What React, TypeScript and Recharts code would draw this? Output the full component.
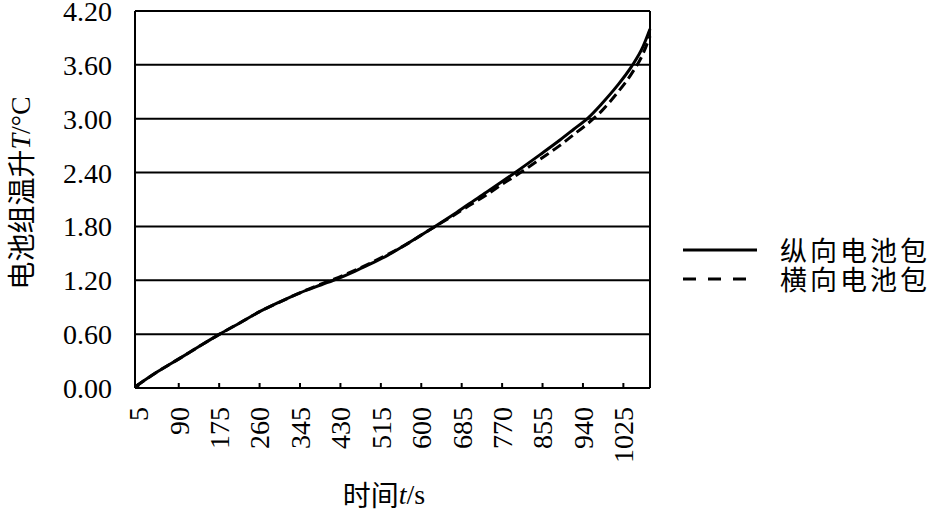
import React from 'react';
import { LineChart, Line, XAxis, YAxis, CartesianGrid, Legend, ReferenceLine, Label } from 'recharts';

const timeS = [0, 45, 92, 135, 176, 220, 260, 303, 345, 390, 425, 460, 492, 530, 562, 617, 667, 700, 737, 770, 800, 850, 891, 920, 951, 980, 1011, 1042, 1066, 1081];
const longitudinal = [0.02, 0.18, 0.33, 0.47, 0.6, 0.73, 0.85, 0.96, 1.06, 1.15, 1.22, 1.3, 1.38, 1.48, 1.58, 1.76, 1.93, 2.05, 2.18, 2.3, 2.41, 2.6, 2.76, 2.88, 3.01, 3.17, 3.36, 3.58, 3.8, 4.0];
const transverse = [0.02, 0.18, 0.33, 0.47, 0.6, 0.73, 0.85, 0.96, 1.06, 1.16, 1.23, 1.31, 1.39, 1.49, 1.58, 1.76, 1.92, 2.03, 2.15, 2.27, 2.37, 2.55, 2.7, 2.82, 2.95, 3.09, 3.28, 3.5, 3.72, 3.92];
const xTicks = [5, 90, 175, 260, 345, 430, 515, 600, 685, 770, 855, 940, 1025];
const yTicks = [0, 0.6, 1.2, 1.8, 2.4, 3.0, 3.6, 4.2];
const seriesNames = ['纵向电池包', '横向电池包'];
const xDomain = [-2, 1081];

const data = timeS.map((t, i) => ({ t, a: longitudinal[i], b: transverse[i] }));

const SERIF = '"Liberation Serif", "Times New Roman", serif';
const CJK = '"Noto Sans CJK SC", sans-serif';

const XTick = (props: any) => {
  const { x, y, payload } = props;
  return (
    <text
      x={0}
      y={0}
      transform={`translate(${x},${y}) rotate(-90)`}
      textAnchor="end"
      dy="0.35em"
      fontFamily={SERIF}
      fontSize={28}
      fill="#000"
    >
      {payload.value}
    </text>
  );
};

const LegendContent = () => {
  const rows = [
    { name: seriesNames[0], dash: undefined },
    { name: seriesNames[1], dash: '13 12' },
  ];
  return (
    <div style={{ display: 'flex', flexDirection: 'column' }}>
      {rows.map((r) => (
        <div key={r.name} style={{ display: 'flex', alignItems: 'center', height: 29, whiteSpace: 'nowrap' }}>
          <svg width={74} height={10} style={{ display: 'block', flex: 'none' }}>
            <line x1={0} y1={5} x2={74} y2={5} stroke="#000" strokeWidth={3} strokeDasharray={r.dash} />
          </svg>
          <span style={{ marginLeft: 23, fontFamily: CJK, fontSize: 27, lineHeight: '29px', letterSpacing: 3, color: '#000', whiteSpace: 'nowrap' }}>
            {r.name}
          </span>
        </div>
      ))}
    </div>
  );
};

export default function App() {
  return (
    <div style={{ position: 'absolute', left: 0, top: 0, width: 934, height: 511, background: '#fff', overflow: 'hidden' }}>
      <LineChart width={934} height={511} data={data} margin={{ top: 11, right: 284, bottom: 0, left: 0 }}>
        <CartesianGrid vertical={false} stroke="#000" strokeWidth={2} />
        <XAxis
          dataKey="t"
          type="number"
          domain={xDomain}
          ticks={xTicks}
          interval={0}
          height={123}
          axisLine={{ stroke: '#000', strokeWidth: 2 }}
          tickLine={{ stroke: '#000', strokeWidth: 2 }}
          tickSize={-5}
          tickMargin={24}
          tick={<XTick />}
        >
          <Label
            content={() => (
              <text x={384} y={494} textAnchor="middle" dominantBaseline="central" fill="#000">
                <tspan fontFamily={CJK} fontSize={28}>时间</tspan>
                <tspan fontFamily={SERIF} fontSize={28} fontStyle="italic">t</tspan>
                <tspan fontFamily={SERIF} fontSize={28}>/s</tspan>
              </text>
            )}
          />
        </XAxis>
        <YAxis
          type="number"
          domain={[0, 4.2]}
          ticks={yTicks}
          interval={0}
          width={135}
          axisLine={{ stroke: '#000', strokeWidth: 2 }}
          tickLine={false}
          tickSize={0}
          tickMargin={23}
          tickFormatter={(v: number) => v.toFixed(2)}
          tick={{ fontFamily: SERIF, fontSize: 28, fill: '#000' }}
        >
          <Label
            content={() => (
              <text
                x={0}
                y={0}
                transform="translate(20,193) rotate(-90)"
                textAnchor="middle"
                dominantBaseline="central"
                fill="#000"
              >
                <tspan fontFamily={CJK} fontSize={28}>电池组温升</tspan>
                <tspan fontFamily={SERIF} fontSize={28} fontStyle="italic">T</tspan>
                <tspan fontFamily={SERIF} fontSize={28}>/°C</tspan>
              </text>
            )}
          />
        </YAxis>
        <ReferenceLine x={xDomain[1]} stroke="#000" strokeWidth={2} />
        <Line
          type="monotone"
          dataKey="b"
          name={seriesNames[1]}
          stroke="#000"
          strokeWidth={3}
          strokeDasharray="10 5"
          dot={false}
          isAnimationActive={false}
        />
        <Line
          type="monotone"
          dataKey="a"
          name={seriesNames[0]}
          stroke="#000"
          strokeWidth={3}
          dot={false}
          isAnimationActive={false}
        />
        <Legend
          layout="vertical"
          align="center"
          verticalAlign="middle"
          content={<LegendContent />}
          wrapperStyle={{ left: 683, top: 235, width: 251 }}
        />
      </LineChart>
    </div>
  );
}
